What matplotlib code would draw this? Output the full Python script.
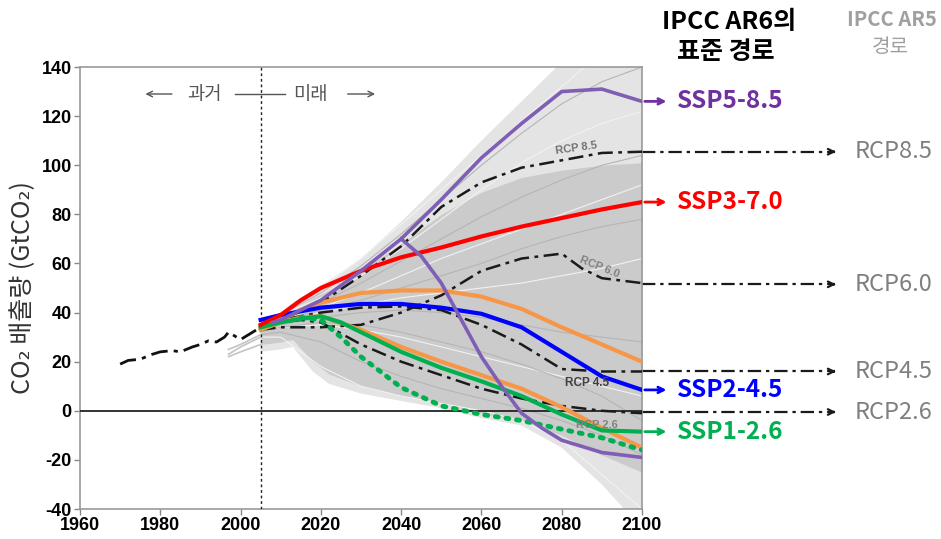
import numpy as np
import matplotlib
matplotlib.use('Agg')
from matplotlib import pyplot as plt

plt.rcParams['font.family'] = ['Noto Sans CJK KR', 'DejaVu Sans']
plt.rcParams['axes.unicode_minus'] = False

# historical emissions
hist_years = [1970, 1972, 1975, 1978, 1980, 1983, 1985, 1988, 1990, 1992, 1994, 1996, 1997, 1998, 2000, 2002, 2005]
hist_vals = [19, 20.5, 21, 23, 24, 24.5, 24, 26, 27, 28.5, 28, 30, 32, 31, 29, 31, 34]

yrs = [2005, 2010, 2020, 2030, 2040, 2050, 2060, 2070, 2080, 2090, 2100]

# scenario envelope (grey bundle)
env_years = [2005, 2010, 2013, 2018, 2022, 2030, 2040, 2050, 2060, 2070, 2080, 2090, 2100]
env_upper = [36, 40, 44, 49, 53, 62, 77, 93, 110, 126, 142, 158, 172]
env_lower = [24, 25, 26, 16, 11, 7, 4, 1, -3, -6, -15, -30, -48]
core_upper = [35, 38, 41, 46, 49, 57, 68, 80, 89, 95, 98, 100, 101]
core_lower = [27, 28, 29, 20, 15, 10, 6, 3, -1, -4, -10, -18, -25]

# a few individual grey scenario lines
grey_lines = [
    [35, 39, 48, 59, 72, 86, 100, 113, 125, 134, 140],
    [35, 39, 46, 55, 66, 78, 90, 101, 110, 117, 122],
    [34, 38, 44, 52, 61, 70, 79, 87, 94, 100, 104],
    [34, 37, 42, 48, 55, 62, 68, 74, 80, 86, 92],
    [34, 37, 41, 45, 50, 55, 60, 66, 71, 75, 78],
    [33, 36, 40, 43, 46, 48, 50, 52, 55, 58, 62],
    [33, 35, 38, 40, 41, 40, 38, 35, 32, 30, 28],
    [32, 34, 35, 33, 30, 26, 22, 18, 14, 10, 6],
    [31, 32, 28, 20, 14, 9, 5, 1, -4, -10, -18],
    [30, 30, 18, 10, 6, 3, 0, -4, -12, -26, -40],
    [32, 34, 36, 35, 32, 28, 24, 19, 13, 6, -4],
    [35, 40, 50, 62, 76, 90, 104, 118, 132, 146, 160],
]
pre_years = [1997, 2000, 2005]
pre_lines = [[22, 24, 27], [23, 26, 30], [25, 27, 31]]

# SSP pathways
ssp585_y = [2008, 2010, 2020, 2030, 2040, 2050, 2060, 2070, 2080, 2090, 2100]
ssp585 = [36, 37, 45, 57, 70, 86, 103, 117, 130, 131, 126]
ssp585b_y = [2040, 2045, 2050, 2055, 2060, 2065, 2070, 2075, 2080, 2090, 2100]
ssp585b = [70, 63, 52, 37, 22, 10, -1, -7, -12, -17, -19]
ssp370_y = [2005, 2010, 2015, 2020, 2030, 2040, 2050, 2060, 2070, 2080, 2090, 2100]
ssp370 = [35, 39, 45, 50, 57, 62.5, 66.5, 71, 75, 78.5, 82, 85]
ssp245_y = [2005, 2010, 2015, 2020, 2030, 2040, 2050, 2060, 2070, 2080, 2090, 2100]
ssp245 = [37, 39, 40.5, 42, 43.5, 43.5, 42, 39.5, 34, 24, 14, 8.5]
ssp460_y = [2005, 2010, 2015, 2020, 2030, 2040, 2050, 2060, 2070, 2080, 2090, 2100]
ssp460 = [34, 37, 41, 44, 48, 49, 49, 46.5, 41.5, 34, 27, 20]
ssp434_y = [2005, 2010, 2015, 2020, 2030, 2040, 2050, 2060, 2070, 2080, 2090, 2100]
ssp434 = [33, 36, 38, 38.5, 33, 26, 20, 14.5, 9, 1.5, -7, -15]
ssp126_y = [2005, 2010, 2015, 2020, 2025, 2030, 2040, 2050, 2060, 2070, 2080, 2090, 2100]
ssp126 = [34, 36, 37.5, 38.5, 36, 32, 24, 17.5, 12, 6, -1.5, -8, -8.5]
ssp119_y = [2015, 2020, 2025, 2030, 2040, 2050, 2060, 2070, 2080, 2090, 2100]
ssp119 = [38, 37, 30, 22, 9.5, 2, -1.5, -4, -7.5, -11, -16]

# RCP pathways (AR5)
rcp85 = [34, 37, 44, 55, 67, 83, 93, 99, 102, 105, 105.5]
rcp60_y = [2005, 2010, 2020, 2030, 2040, 2050, 2060, 2070, 2080, 2085, 2090, 2100]
rcp60 = [33, 34, 34, 35, 40, 47, 57, 62, 64, 58, 54, 52]
rcp45 = [34, 37, 40, 42, 42.5, 41, 35, 27, 17, 16, 16]
rcp26_y = [2005, 2010, 2015, 2020, 2030, 2040, 2050, 2060, 2070, 2080, 2090, 2100]
rcp26 = [34, 36, 37, 36, 27, 20, 14.5, 9, 5, 2, 0, -1]

ssp_names = ['SSP5-8.5', 'SSP3-7.0', 'SSP2-4.5', 'SSP1-2.6']
ssp_end = [126, 85, 8.5, -8.5]
ssp_colors = ['#7030A0', '#FF0000', '#0000FF', '#00B050']
rcp_names = ['RCP8.5', 'RCP6.0', 'RCP4.5', 'RCP2.6']
rcp_end = [105.5, 51.5, 16, -0.5]

purple = '#7F5FB5'
dashdot = (0, (6, 2.2, 1.5, 2.2))

fig = plt.figure(figsize=(9.41, 5.39), dpi=100)
ax = fig.add_axes([80 / 941, 30 / 539, 562 / 941, 442 / 539])

ax.fill_between(env_years, env_lower, env_upper, color='#e4e4e4', lw=0, zorder=1)
ax.fill_between(env_years, core_lower, core_upper, color='#cbcbcb', lw=0, zorder=1)
for i, g in enumerate(grey_lines):
    ax.plot(yrs, g, color='#f2f2f2' if i % 2 else '#b5b5b5', lw=0.8, zorder=2)
for g in pre_lines:
    ax.plot(pre_years, g, color='#c4c4c4', lw=1.2, zorder=2)

ax.axhline(0, color='#222222', lw=1.3, zorder=3)
ax.axvline(2005, color='#222222', lw=1, ls=(0, (2, 2)), zorder=3)

ax.plot(hist_years, hist_vals, color='#111111', lw=2, ls=dashdot, zorder=6)
ax.plot(yrs, rcp85, color='#1a1a1a', lw=1.8, ls=dashdot, zorder=4)
ax.plot(rcp60_y, rcp60, color='#1a1a1a', lw=1.8, ls=dashdot, zorder=4)
ax.plot(yrs, rcp45, color='#1a1a1a', lw=1.8, ls=dashdot, zorder=4)
ax.plot(rcp26_y, rcp26, color='#1a1a1a', lw=1.8, ls=dashdot, zorder=4)

ax.plot(ssp460_y, ssp460, color='#F79646', lw=3, zorder=5)
ax.plot(ssp434_y, ssp434, color='#F79646', lw=3, zorder=5)
ax.plot(ssp119_y, ssp119, color='#00B050', lw=3.5, ls=(0, (0.6, 1.6)),
        dash_capstyle='round', zorder=5)
ax.plot(ssp126_y, ssp126, color='#00B050', lw=3, zorder=5)
ax.plot(ssp245_y, ssp245, color='#0000FF', lw=3, zorder=5)
ax.plot(ssp370_y, ssp370, color='#FF0000', lw=3, zorder=5)
ax.plot(ssp585b_y, ssp585b, color=purple, lw=2.6, zorder=5)
ax.plot(ssp585_y, ssp585, color=purple, lw=2.6, zorder=5)

# labels on the RCP curves
ax.text(2083.7, 107, 'RCP 8.5', color='#707070', fontsize=8, fontweight='bold',
        rotation=8, ha='center', va='center', family='Liberation Sans', zorder=7)
ax.text(2089.4, 58.5, 'RCP 6.0', color='#808080', fontsize=8, fontweight='bold',
        rotation=-22, ha='center', va='center', family='Liberation Sans', zorder=7)
ax.text(2086.2, 11.3, 'RCP 4.5', color='#404040', fontsize=8.5, fontweight='bold',
        ha='center', va='center', family='Liberation Sans', zorder=7)
ax.text(2088.7, -5.8, 'RCP 2.6', color='#808080', fontsize=8, fontweight='bold',
        ha='center', va='center', family='Liberation Sans', zorder=7)

# past / future marker
gc = '#555555'
ax.annotate('', xy=(1975.6, 129), xytext=(1983.6, 129),
            arrowprops=dict(arrowstyle='->', color=gc, lw=1))
ax.text(1991, 129, '과거', color=gc, fontsize=13.5, ha='center', va='center')
ax.plot([1998.6, 2011], [129, 129], color=gc, lw=1)
ax.text(2017.3, 129, '미래', color=gc, fontsize=13.5, ha='center', va='center')
ax.annotate('', xy=(2034.2, 129), xytext=(2026, 129),
            arrowprops=dict(arrowstyle='->', color=gc, lw=1))

# right-hand pathway labels
for name, v, c in zip(ssp_names, ssp_end, ssp_colors):
    ax.annotate('', xy=(2106.8, v), xytext=(2100, v), annotation_clip=False,
                arrowprops=dict(arrowstyle='->', color=c, lw=2))
    ax.text(2108.6, v, name, color=c, fontsize=17.5, fontweight='bold',
            va='center', ha='left', clip_on=False)
for name, v in zip(rcp_names, rcp_end):
    ax.plot([2100, 2148], [v, v], color='#1a1a1a', lw=1.6, ls=dashdot, clip_on=False)
    ax.annotate('', xy=(2149, v), xytext=(2147, v), annotation_clip=False,
                arrowprops=dict(arrowstyle='->', color='#1a1a1a', lw=1.6))
    ax.text(2152.9, v, name, color='#7f7f7f', fontsize=17, va='center',
            ha='left', clip_on=False)

fig.text(729 / 941, 1 - 22 / 539, 'IPCC AR6의', fontsize=18, fontweight='bold',
         ha='center', va='center')
fig.text(726 / 941, 1 - 52 / 539, '표준 경로', fontsize=18, fontweight='bold',
         ha='center', va='center')
fig.text(892 / 941, 1 - 20 / 539, 'IPCC AR5', fontsize=14.5, fontweight='bold',
         color='#a0a0a0', ha='center', va='center')
fig.text(890 / 941, 1 - 47 / 539, '경로', fontsize=14.5, color='#a0a0a0',
         ha='center', va='center')

ax.set_xlim(1960, 2100)
ax.set_ylim(-40, 140)
ax.set_xticks(range(1960, 2101, 20))
ax.set_yticks(range(-40, 141, 20))
for lab in ax.get_xticklabels() + ax.get_yticklabels():
    lab.set_family('Liberation Sans')
    lab.set_fontweight('bold')
    lab.set_fontsize(13)
ax.tick_params(color='#888888', length=4, width=1, pad=2)
for s in ax.spines.values():
    s.set_color('#999999')
    s.set_linewidth(1.2)
ax.set_ylabel('CO₂ 배출량 (GtCO₂)', fontsize=18, color='#333333', labelpad=4)

plt.savefig('out.png', dpi=100)
